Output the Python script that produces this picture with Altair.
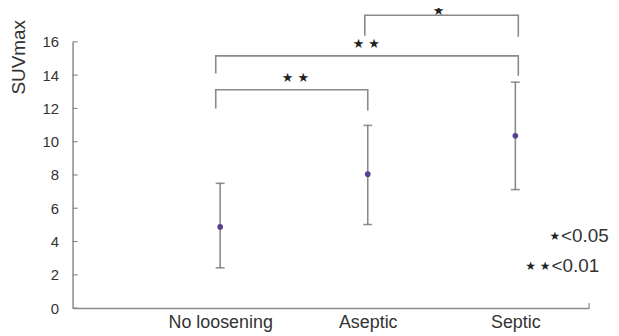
import altair as alt
import pandas as pd

# --- data ---
categories = ["No loosening", "Aseptic", "Septic"]
cat_pos = [1, 2, 3]
means = [4.88, 8.05, 10.35]
lower = [2.42, 5.02, 7.12]
upper = [7.50, 10.98, 13.58]

# significance brackets (data units): left x, right x, top y, left bottom y, right bottom y
br_left = [0.97, 0.97, 1.98]
br_right = [2.0, 3.02, 3.02]
br_top = [13.12, 15.16, 17.6]
br_lbot = [12.0, 14.1, 16.36]
br_rbot = [11.88, 13.97, 16.3]
br_label = ["★  ★", "★  ★", "★"]
br_label_x = [1.51, 1.99, 2.48]
br_label_y = [13.8, 15.85, 17.88]

legend_stars = ["★", "★  ★"]
legend_text = ["<0.05", "<0.01"]
legend_x = [3.31, 3.245]
legend_y = [4.36, 2.5]

y_ticks = [0, 2, 4, 6, 8, 10, 12, 14, 16]

FONT = "Liberation Sans"
GRAY = "#8a8a8a"
TXT = "#333333"

df = pd.DataFrame({"cat": categories, "x": cat_pos, "mean": means, "lo": lower, "hi": upper})

rows = []
for i in range(len(br_left)):
    pts = [(br_left[i], br_lbot[i]), (br_left[i], br_top[i]), (br_right[i], br_top[i]), (br_right[i], br_rbot[i])]
    for j, (bx, by) in enumerate(pts):
        rows.append({"b": i, "o": j, "x": bx, "y": by})
br_df = pd.DataFrame(rows)
brl_df = pd.DataFrame({"t": br_label, "x": br_label_x, "y": br_label_y})
leg_df = pd.DataFrame({"s": legend_stars, "t": legend_text, "x": legend_x, "y": legend_y})
tick_df = pd.DataFrame({"y": y_ticks})
end_df = pd.DataFrame({"x": [3.5], "y": [0], "y2": [0.3]})

label_expr = "datum.value == 1 ? 'No loosening' : datum.value == 2 ? 'Aseptic' : datum.value == 3 ? 'Septic' : ''"

xs = alt.Scale(domain=[0, 3.5], nice=False, zero=False)
ys = alt.Scale(domain=[0, 16], nice=False)

x_axis = alt.Axis(values=[1, 2, 3], labelExpr=label_expr, ticks=False, grid=False, title=None,
                  labelFontSize=18, labelFont=FONT, labelColor=TXT, labelPadding=6,
                  domainColor=GRAY, domainWidth=1.5, labelFlush=False, labelOverlap=False)
y_axis = alt.Axis(values=y_ticks, ticks=False, grid=False, title="SUVmax",
                  labelFontSize=15, labelFont=FONT, labelColor=TXT, labelPadding=14,
                  labelOverlap=False,
                  domainColor=GRAY, domainWidth=1.5,
                  titleFont=FONT, titleFontSize=19, titleColor=TXT, titleFontWeight="normal",
                  titleAngle=270, titleX=-54, titleY=15, titleAlign="center", titleBaseline="middle")


def X(f):
    return alt.X(f, scale=xs, axis=x_axis)


def Y(f):
    return alt.Y(f, scale=ys, axis=y_axis)


base = alt.Chart(df)

err = base.mark_rule(color=GRAY, strokeWidth=1.6).encode(x=X("x:Q"), y=Y("lo:Q"), y2="hi:Q")
cap_hi = base.mark_tick(orient="horizontal", size=9, thickness=1.6, color="#666666").encode(
    x=X("x:Q"), y=Y("hi:Q"))
cap_lo = base.mark_tick(orient="horizontal", size=9, thickness=1.6, color="#666666").encode(
    x=X("x:Q"), y=Y("lo:Q"))
pts = base.mark_circle(size=32, color="#5b3d92", opacity=1).encode(x=X("x:Q"), y=Y("mean:Q"))

brackets = alt.Chart(br_df).mark_line(color=GRAY, strokeWidth=1.6).encode(
    x=X("x:Q"), y=Y("y:Q"), detail="b:N", order="o:Q")
br_text = alt.Chart(brl_df).mark_text(font="DejaVu Sans", fontSize=13, color="#222222",
                                      baseline="middle").encode(x=X("x:Q"), y=Y("y:Q"), text="t:N")

leg_t = alt.Chart(leg_df).mark_text(font=FONT, fontSize=19, color=TXT, align="left",
                                    baseline="middle").encode(x=X("x:Q"), y=Y("y:Q"), text="t:N")
leg_s = alt.Chart(leg_df).mark_text(font="DejaVu Sans", fontSize=12, color="#222222", align="right",
                                    baseline="middle", dx=-1).encode(x=X("x:Q"), y=Y("y:Q"), text="s:N")

yt = alt.Chart(tick_df).mark_rule(color=GRAY, strokeWidth=1.2).encode(
    y=Y("y:Q"), x=alt.value(0), x2=alt.value(5))
endt = alt.Chart(end_df).mark_rule(color=GRAY, strokeWidth=1.2).encode(
    x=X("x:Q"), y=Y("y:Q"), y2="y2:Q")

chart = alt.layer(err, yt, endt, brackets, cap_hi, cap_lo, pts, br_text, leg_t, leg_s).properties(
    width=520, height=268,
    autosize=alt.AutoSizeParams(type="none"),
    padding={"left": 65, "top": 33, "right": 22, "bottom": 25},
    background="white",
).configure_view(strokeWidth=0, stroke="transparent")

chart.save("out.html", embed_options={"renderer": "svg", "actions": False})
